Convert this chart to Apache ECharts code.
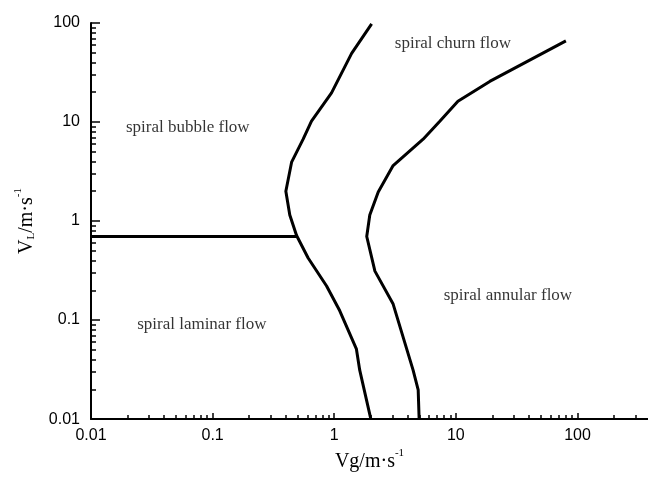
<!DOCTYPE html>
<html><head><meta charset="utf-8">
<script src="https://cdn.jsdelivr.net/npm/echarts@6/dist/echarts.min.js"></script>
<style>html,body{margin:0;padding:0;background:#fff}#c{width:648px;height:477px}</style>
</head><body><div id="c"></div>
<script>
// ---- tick values ----
const xMajorTicks = [0.01, 0.1, 1, 10, 100];
const yMajorTicks = [0.01, 0.1, 1, 10, 100];
const xMinorTicks = [0.02,0.03,0.04,0.05,0.06,0.07,0.08,0.09,
                     0.2,0.3,0.4,0.5,0.6,0.7,0.8,0.9,
                     2,3,4,5,6,7,8,9,
                     20,30,40,50,60,70,80,90,
                     200,300];
const yMinorTicks = [0.02,0.03,0.04,0.05,0.06,0.07,0.08,0.09,
                     0.2,0.3,0.4,0.5,0.6,0.7,0.8,0.9,
                     2,3,4,5,6,7,8,9,
                     20,30,40,50,60,70,80,90];

// ---- boundary curves [Vg, VL] ----
const laminarBubbleBoundary = [[0.01, 0.70], [0.49, 0.70]];
const bubbleChurnBoundary = [
  [2.00, 0.0100], [1.62, 0.0312], [1.52, 0.0513], [1.11, 0.124], [0.865, 0.221],
  [0.61, 0.424], [0.49, 0.714], [0.431, 1.15], [0.40, 2.0], [0.446, 3.93],
  [0.555, 6.71], [0.65, 10.2], [0.95, 19.7], [1.39, 49.4], [2.03, 98]
];
const churnAnnularBoundary = [
  [4.99, 0.0100], [4.90, 0.0197], [4.45, 0.0312], [3.05, 0.145], [2.16, 0.312],
  [1.85, 0.698], [1.96, 1.15], [2.30, 1.97], [3.05, 3.63], [5.38, 6.71],
  [7.38, 10.2], [10.4, 16.2], [19.0, 25.7], [80.3, 66.1]
];

// ---- region labels ----
const regionNames = ['spiral churn flow', 'spiral bubble flow', 'spiral laminar flow', 'spiral annular flow'];
const regionAnchors = [[9.45, 62.7], [0.0625, 8.85], [0.0815, 0.0906], [26.8, 0.177]];

const fmt = v => String(+(+v).toPrecision(3));
const serif = '"Liberation Serif", "Times New Roman", serif';
const sans = '"Liberation Sans", Arial, sans-serif';

const chart = echarts.init(document.getElementById('c'), null, {renderer: 'canvas'});
const lineStyle = {color: '#000', width: 3};
const axisLineStyle = {color: '#000', width: 2};
const nameRich = {
  m: {fontFamily: serif, fontSize: 20, color: '#000', lineHeight: 24, verticalAlign: 'bottom'},
  sub: {fontFamily: serif, fontSize: 11, color: '#000', lineHeight: 24, verticalAlign: 'bottom'},
  sup: {fontFamily: serif, fontSize: 11, color: '#000', lineHeight: 24, verticalAlign: 'top'}
};

chart.setOption({
  animation: false,
  backgroundColor: '#fff',
  grid: {left: 91, right: 0, top: 23, bottom: 55, containLabel: false},
  xAxis: [
    {
      type: 'log', logBase: 10, min: 0.01, max: 380, position: 'bottom',
      axisLine: {show: true, lineStyle: axisLineStyle},
      axisTick: {show: true, inside: true, length: 6, lineStyle: {color: '#000', width: 1.5}, customValues: xMajorTicks},
      axisLabel: {show: true, customValues: xMajorTicks, formatter: fmt, margin: 8,
                  fontFamily: sans, fontSize: 16, color: '#000'},
      splitLine: {show: false}, minorTick: {show: false},
      name: '{m|Vg/m·s}{sup|-1}', nameLocation: 'middle', nameGap: 27,
      nameTextStyle: {rich: nameRich}
    },
    {
      type: 'log', logBase: 10, min: 0.01, max: 380, position: 'bottom',
      axisLine: {show: false},
      axisTick: {show: true, inside: true, length: 4, lineStyle: {color: '#000', width: 1.5}, customValues: xMinorTicks},
      axisLabel: {show: false}, splitLine: {show: false}
    }
  ],
  yAxis: [
    {
      type: 'log', logBase: 10, min: 0.01, max: 100, position: 'left',
      axisLine: {show: true, lineStyle: axisLineStyle},
      axisTick: {show: true, inside: true, length: 9, lineStyle: {color: '#000', width: 1.5}, customValues: yMajorTicks},
      axisLabel: {show: true, customValues: yMajorTicks, formatter: fmt, margin: 11,
                  fontFamily: sans, fontSize: 16, color: '#000'},
      splitLine: {show: false}, minorTick: {show: false},
      name: '{m|V}{sub|L}{m|/m·s}{sup|-1}', nameLocation: 'middle', nameGap: 54,
      nameTextStyle: {rich: nameRich}
    },
    {
      type: 'log', logBase: 10, min: 0.01, max: 100, position: 'left',
      axisLine: {show: false},
      axisTick: {show: true, inside: true, length: 5, lineStyle: {color: '#000', width: 1.5}, customValues: yMinorTicks},
      axisLabel: {show: false}, splitLine: {show: false}
    }
  ],
  series: [
    {type: 'line', data: laminarBubbleBoundary, showSymbol: false, symbol: 'none', lineStyle, xAxisIndex: 0, yAxisIndex: 0, silent: true},
    {type: 'line', data: bubbleChurnBoundary, showSymbol: false, symbol: 'none', lineStyle, xAxisIndex: 0, yAxisIndex: 0, silent: true},
    {type: 'line', data: churnAnnularBoundary, showSymbol: false, symbol: 'none', lineStyle, xAxisIndex: 0, yAxisIndex: 0, silent: true},
    {
      type: 'scatter', xAxisIndex: 0, yAxisIndex: 0, silent: true,
      symbolSize: 1, itemStyle: {color: 'rgba(0,0,0,0)'},
      data: regionNames.map((n, i) => ({name: n, value: regionAnchors[i]})),
      label: {show: true, position: 'inside', formatter: p => p.name,
              fontFamily: serif, fontSize: 17, color: '#000'}
    }
  ]
});
</script></body></html>
